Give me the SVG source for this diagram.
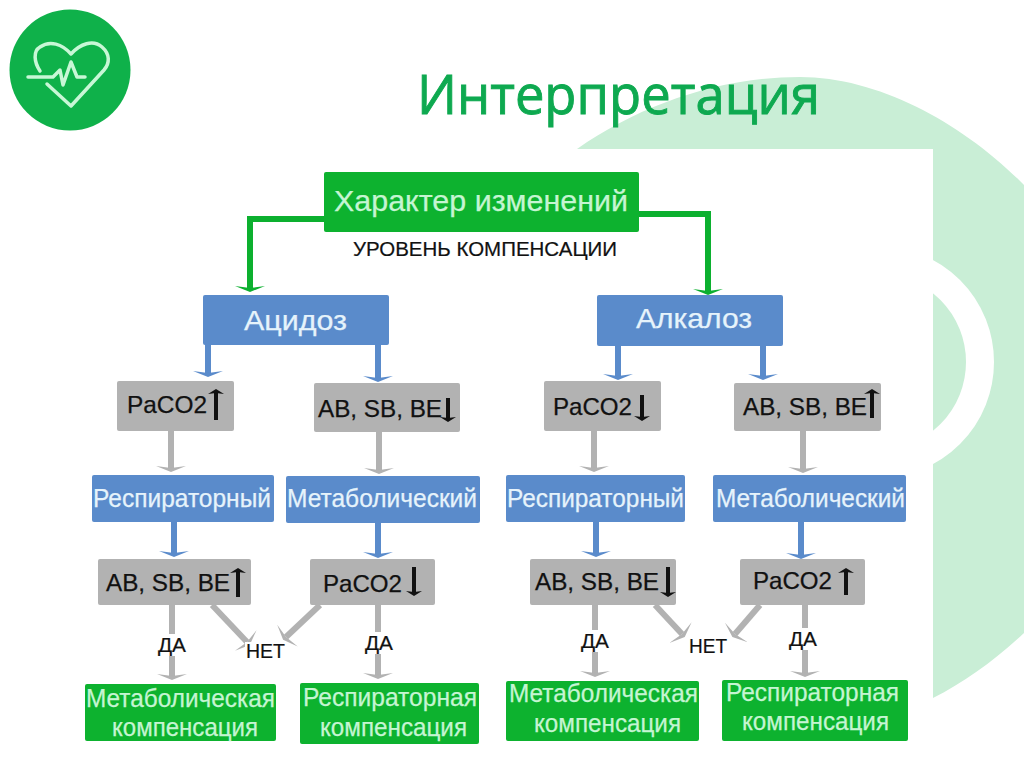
<svg xmlns="http://www.w3.org/2000/svg" width="1024" height="767" viewBox="0 0 1024 767">
<style>
text{font-family:"Liberation Sans",Arial,sans-serif;}
.bg{fill:#c9eed6;}
.title{font-family:"Open Sans","Noto Sans",sans-serif;font-size:54px;fill:#0ea950;stroke:#0ea950;stroke-width:.9;}
.g{fill:#b2b2b2;}.b{fill:#5a8bcb;}.gr{fill:#0db22f;}
.k{font-size:24px;fill:#111;stroke:#111;stroke-width:.25;}
.w{font-size:25px;fill:#e6f3fb;stroke:#e6f3fb;stroke-width:.25;}
.p{font-size:25px;fill:#c5f5d2;stroke:#c5f5d2;stroke-width:.25;}
.l{font-size:20px;fill:#111;stroke:#111;stroke-width:.2;}
.lbg{fill:#fff;}
.c{fill:none;stroke-width:6;stroke-linejoin:miter;}
.cg{stroke:#b2b2b2;marker-end:url(#hg);}
.cb{stroke:#5a8bcb;marker-end:url(#hb);}
.cgr{stroke:#0cb02f;marker-end:url(#hgr);}
.ar{stroke:#111;stroke-width:4;fill:none;marker-end:url(#hk);}
.hl{fill:none;stroke:#c8f7d6;stroke-width:3.5;stroke-linejoin:round;stroke-linecap:round;}
</style>
<defs>
<marker id="hg" markerUnits="userSpaceOnUse" markerWidth="7" markerHeight="30" refX="2" refY="15" orient="auto"><path d="M0 0L6 15L0 30L2 15Z" fill="#b2b2b2"/></marker>
<marker id="hb" markerUnits="userSpaceOnUse" markerWidth="7" markerHeight="30" refX="2" refY="15" orient="auto"><path d="M0 0L6 15L0 30L2 15Z" fill="#5a8bcb"/></marker>
<marker id="hgr" markerUnits="userSpaceOnUse" markerWidth="7" markerHeight="30" refX="2" refY="15" orient="auto"><path d="M0 0L6 15L0 30L2 15Z" fill="#0cb02f"/></marker>
<marker id="hk" markerUnits="userSpaceOnUse" markerWidth="6" markerHeight="16" refX="1" refY="8" orient="auto"><path d="M0 0L5 8L0 16L1 8Z" fill="#111"/></marker>
</defs>
<rect width="1024" height="767" fill="#fff"/>
<path class="bg" d="M577 149C640 105 720 77 800 77C880 77 965 125 1024 185L1024 633C995 660 965 682 933 698L933 149Z"/>
<path d="M878 260A102 102 0 0 1 878 464" fill="none" stroke="#fff" stroke-width="28"/>
<g id="logo">
<circle cx="70" cy="70" r="60.5" fill="#0fb14a"/>
<path class="hl" d="M40 71C34 62 33 51 40 47C50 40 62 44 71 54C80 44 93 39 102 47C110 54 110 63 104 70L71 106L47 84"/>
<path class="hl" d="M28 77L53 77L60 70L63 85L71 62L77 77L85 77"/>
</g>
<text id="title" class="title" x="417" y="114" textLength="403" lengthAdjust="spacingAndGlyphs">Интерпретация</text>
<g id="connectors">
<path class="c cgr" d="M324 219H250V288"/>
<path class="c cgr" d="M639 214H708V291"/>
<path class="c cb" d="M208 345V373"/>
<path class="c cb" d="M378 345V378"/>
<path class="c cb" d="M618 346V376"/>
<path class="c cb" d="M763 346V376"/>
<path class="c cg" d="M171 431V468"/>
<path class="c cg" d="M379 432V470"/>
<path class="c cg" d="M594 431V468"/>
<path class="c cg" d="M803 431V469"/>
<path class="c cb" d="M174 522V553"/>
<path class="c cb" d="M378 523V554"/>
<path class="c cb" d="M596 522V553"/>
<path class="c cb" d="M801 522V555"/>
<path class="c cg" d="M172 605V676"/>
<path class="c cg" d="M378 605V675"/>
<path class="c cg" d="M595 605V673"/>
<path class="c cg" d="M805 605V673"/>
<path class="c cg" d="M212 605L247 642"/>
<path class="c cg" d="M320 605L286 637"/>
<path class="c cg" d="M655 605L682 634"/>
<path class="c cg" d="M760 605L735 634"/>
</g>
<g id="n-top"><rect class="gr" x="324" y="172" width="315" height="60" rx="2"/><text class="p" style="font-size:30px" x="334" y="211" textLength="294" lengthAdjust="spacingAndGlyphs">Характер изменений</text></g>
<g id="n-level"><text class="l" x="353" y="256" textLength="264" lengthAdjust="spacingAndGlyphs">УРОВЕНЬ КОМПЕНСАЦИИ</text></g>
<g id="n-acidosis"><rect class="b" x="203" y="295" width="186" height="50" rx="2"/><text class="w" style="font-size:28px" x="244" y="330" textLength="103" lengthAdjust="spacingAndGlyphs">Ацидоз</text></g>
<g id="n-alkalosis"><rect class="b" x="597" y="295" width="186" height="51" rx="2"/><text class="w" style="font-size:28px" x="636" y="328" textLength="116" lengthAdjust="spacingAndGlyphs">Алкалоз</text></g>

<g id="n-a1"><rect class="g" x="117" y="381" width="117" height="50" rx="2"/><text class="k" x="127" y="413" textLength="80" lengthAdjust="spacingAndGlyphs">PaCO2</text><path class="ar" d="M216 420V393"/></g>
<g id="n-a2"><rect class="g" x="314" y="383" width="146" height="49" rx="2"/><text class="k" x="318" y="417" textLength="124" lengthAdjust="spacingAndGlyphs">AB, SB, BE</text><path class="ar" d="M448 398V418"/></g>
<g id="n-a3"><rect class="b" x="92" y="475" width="182" height="47" rx="2"/><text class="w" x="93" y="507" textLength="178" lengthAdjust="spacingAndGlyphs">Респираторный</text></g>
<g id="n-a4"><rect class="b" x="286" y="476" width="194" height="47" rx="2"/><text class="w" x="287" y="507" textLength="190" lengthAdjust="spacingAndGlyphs">Метаболический</text></g>
<g id="n-a5"><rect class="g" x="98" y="559" width="153" height="46" rx="2"/><text class="k" x="106" y="591" textLength="124" lengthAdjust="spacingAndGlyphs">AB, SB, BE</text><path class="ar" d="M238 597V572"/></g>
<g id="n-a6"><rect class="g" x="310" y="559" width="125" height="46" rx="2"/><text class="k" x="323" y="592" textLength="79" lengthAdjust="spacingAndGlyphs">PaCO2</text><path class="ar" d="M414 567V592"/></g>
<g id="n-a7"><rect class="gr" x="85" y="684" width="191" height="57" rx="2"/><text class="p" x="86" y="707" textLength="189" lengthAdjust="spacingAndGlyphs">Метаболическая</text><text class="p" x="112" y="736" textLength="146" lengthAdjust="spacingAndGlyphs">компенсация</text></g>
<g id="n-a8"><rect class="gr" x="300" y="683" width="179" height="61" rx="2"/><text class="p" x="303" y="706" textLength="174" lengthAdjust="spacingAndGlyphs">Респираторная</text><text class="p" x="320" y="736" textLength="147" lengthAdjust="spacingAndGlyphs">компенсация</text></g>

<g id="n-b1"><rect class="g" x="544" y="381" width="117" height="50" rx="2"/><text class="k" x="553" y="415" textLength="79" lengthAdjust="spacingAndGlyphs">PaCO2</text><path class="ar" d="M642 395V417"/></g>
<g id="n-b2"><rect class="g" x="734" y="383" width="147" height="48" rx="2"/><text class="k" x="743" y="415" textLength="124" lengthAdjust="spacingAndGlyphs">AB, SB, BE</text><path class="ar" d="M872 418V393"/></g>
<g id="n-b3"><rect class="b" x="506" y="475" width="179" height="47" rx="2"/><text class="w" x="507" y="507" textLength="177" lengthAdjust="spacingAndGlyphs">Респираторный</text></g>
<g id="n-b4"><rect class="b" x="713" y="475" width="193" height="47" rx="2"/><text class="w" x="716" y="507" textLength="189" lengthAdjust="spacingAndGlyphs">Метаболический</text></g>
<g id="n-b5"><rect class="g" x="530" y="559" width="146" height="46" rx="2"/><text class="k" x="535" y="590" textLength="124" lengthAdjust="spacingAndGlyphs">AB, SB, BE</text><path class="ar" d="M668 567V593"/></g>
<g id="n-b6"><rect class="g" x="740" y="559" width="125" height="46" rx="2"/><text class="k" x="753" y="589" textLength="79" lengthAdjust="spacingAndGlyphs">PaCO2</text><path class="ar" d="M846 595V572"/></g>
<g id="n-b7"><rect class="gr" x="506" y="681" width="193" height="60" rx="2"/><text class="p" x="509" y="702" textLength="189" lengthAdjust="spacingAndGlyphs">Метаболическая</text><text class="p" x="534" y="732" textLength="147" lengthAdjust="spacingAndGlyphs">компенсация</text></g>
<g id="n-b8"><rect class="gr" x="722" y="680" width="186" height="61" rx="2"/><text class="p" x="726" y="701" textLength="173" lengthAdjust="spacingAndGlyphs">Респираторная</text><text class="p" x="742" y="730" textLength="147" lengthAdjust="spacingAndGlyphs">компенсация</text></g>

<g id="labels">
<rect class="lbg" x="157" y="634" width="30" height="22"/><text class="l" x="158" y="652" textLength="28" lengthAdjust="spacingAndGlyphs">ДА</text>
<rect class="lbg" x="364" y="632" width="30" height="22"/><text class="l" x="365" y="650" textLength="28" lengthAdjust="spacingAndGlyphs">ДА</text>
<rect class="lbg" x="580" y="630" width="30" height="22"/><text class="l" x="581" y="648" textLength="28" lengthAdjust="spacingAndGlyphs">ДА</text>
<rect class="lbg" x="788" y="628" width="30" height="22"/><text class="l" x="789" y="646" textLength="28" lengthAdjust="spacingAndGlyphs">ДА</text>
<rect class="lbg" x="245" y="642" width="42" height="20"/><text class="l" x="246" y="658" textLength="39" lengthAdjust="spacingAndGlyphs">НЕТ</text>
<rect class="lbg" x="688" y="637" width="42" height="20"/><text class="l" x="689" y="653" textLength="38" lengthAdjust="spacingAndGlyphs">НЕТ</text>
</g>
</svg>
